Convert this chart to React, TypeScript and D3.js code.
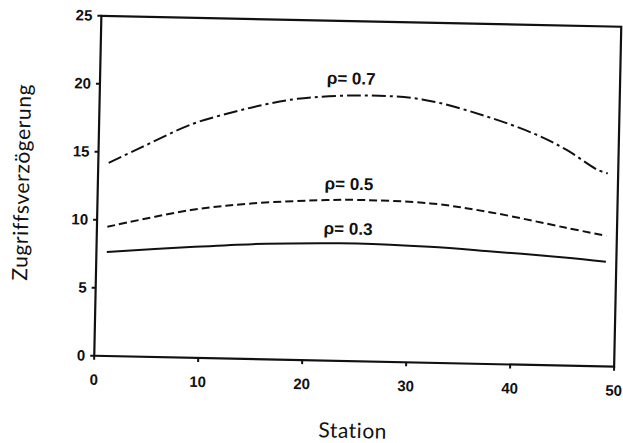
import React from "react";
import * as d3 from "d3";

const xTicks = [0, 10, 20, 30, 40, 50];
const yTicks = [0, 5, 10, 15, 20, 25];

const stations07 = [1, 4, 9, 13, 16, 19, 25, 31, 37, 42, 45, 48, 49];
const values07 = [14.2, 15.35, 17.2, 18.15, 18.75, 19.2, 19.55, 19.35, 18.25, 16.95, 15.86, 14.45, 14.2];

const stations05 = [1, 9, 15, 22, 25, 32, 38, 45, 49];
const values05 = [9.5, 10.86, 11.45, 11.8, 11.86, 11.72, 11.13, 10.15, 9.6];

const stations03 = [1, 9, 15, 22, 25, 32, 38, 45, 49];
const values03 = [7.65, 8.14, 8.45, 8.62, 8.66, 8.53, 8.28, 7.95, 7.7];

const seriesLabels = ["ρ= 0.7", "ρ= 0.5", "ρ= 0.3"];
const labelAnchors = [
  [21.8, 20.35],
  [21.8, 12.6],
  [21.8, 9.3],
];

const W = 623;
const H = 443;
const left = 97.75;
const right = 617.75;
const top = 21.25;
const bottom = 361.25;

export default function App() {
  const x = d3.scaleLinear().domain([0, 50]).range([left, right]);
  const y = d3.scaleLinear().domain([0, 25]).range([bottom, top]);
  const line = d3
    .line<[number, number]>()
    .x((d) => x(d[0]))
    .y((d) => y(d[1]))
    .curve(d3.curveCatmullRom.alpha(0.5));

  const series = [
    { xs: stations07, ys: values07, dash: "14,4,3,4" },
    { xs: stations05, ys: values05, dash: "8,4" },
    { xs: stations03, ys: values03, dash: "none" },
  ];

  const cx = (left + right) / 2;
  const cy = (top + bottom) / 2;

  return (
    <svg
      width={W}
      height={H}
      style={{ position: "absolute", left: 0, top: 0, background: "#fff" }}
    >
      <rect x={0} y={0} width={W} height={H} fill="#fff" />
      <g transform={`rotate(1.2, ${cx}, ${cy})`}>
        <rect
          x={left}
          y={top}
          width={right - left}
          height={bottom - top}
          fill="none"
          stroke="#111"
          strokeWidth={2.2}
        />
        {xTicks.map((t) => (
          <g key={"x" + t}>
            <line x1={x(t)} x2={x(t)} y1={bottom} y2={bottom + 4} stroke="#111" strokeWidth={2} />
            <text
              x={x(t)}
              y={bottom + 29}
              textAnchor="middle"
              fontFamily="Liberation Sans, Arial, sans-serif"
              fontWeight="bold"
              fontSize={15}
              fill="#111"
            >
              {t}
            </text>
          </g>
        ))}
        {yTicks.map((t) => (
          <g key={"y" + t}>
            <line x1={left - 4} x2={left} y1={y(t)} y2={y(t)} stroke="#111" strokeWidth={2} />
            <text
              x={left - 9}
              y={y(t) + 5}
              textAnchor="end"
              fontFamily="Liberation Sans, Arial, sans-serif"
              fontWeight="bold"
              fontSize={15}
              fill="#111"
            >
              {t}
            </text>
          </g>
        ))}
        {series.map((s, i) => (
          <path
            key={"s" + i}
            d={line(s.xs.map((v, j) => [v, s.ys[j]] as [number, number])) || ""}
            fill="none"
            stroke="#111"
            strokeWidth={2}
            strokeDasharray={s.dash}
          />
        ))}
        {seriesLabels.map((lab, i) => (
          <text
            key={"l" + i}
            x={x(labelAnchors[i][0])}
            y={y(labelAnchors[i][1])}
            fontFamily="Liberation Sans, Arial, sans-serif"
            fontWeight="bold"
            fontSize={17}
            fill="#111"
          >
            {lab}
          </text>
        ))}
        <text
          x={cx}
          y={438}
          textAnchor="middle"
          fontFamily="Lato, sans-serif"
          fontSize={21}
          fill="#111"
          letterSpacing={0.5}
        >
          Station
        </text>
        <text
          transform={`translate(29, ${cy - 2}) rotate(-90)`}
          textAnchor="middle"
          fontFamily="Lato, sans-serif"
          fontSize={21}
          fill="#111"
          letterSpacing={0.6}
        >
          Zugriffsverzögerung
        </text>
      </g>
    </svg>
  );
}
